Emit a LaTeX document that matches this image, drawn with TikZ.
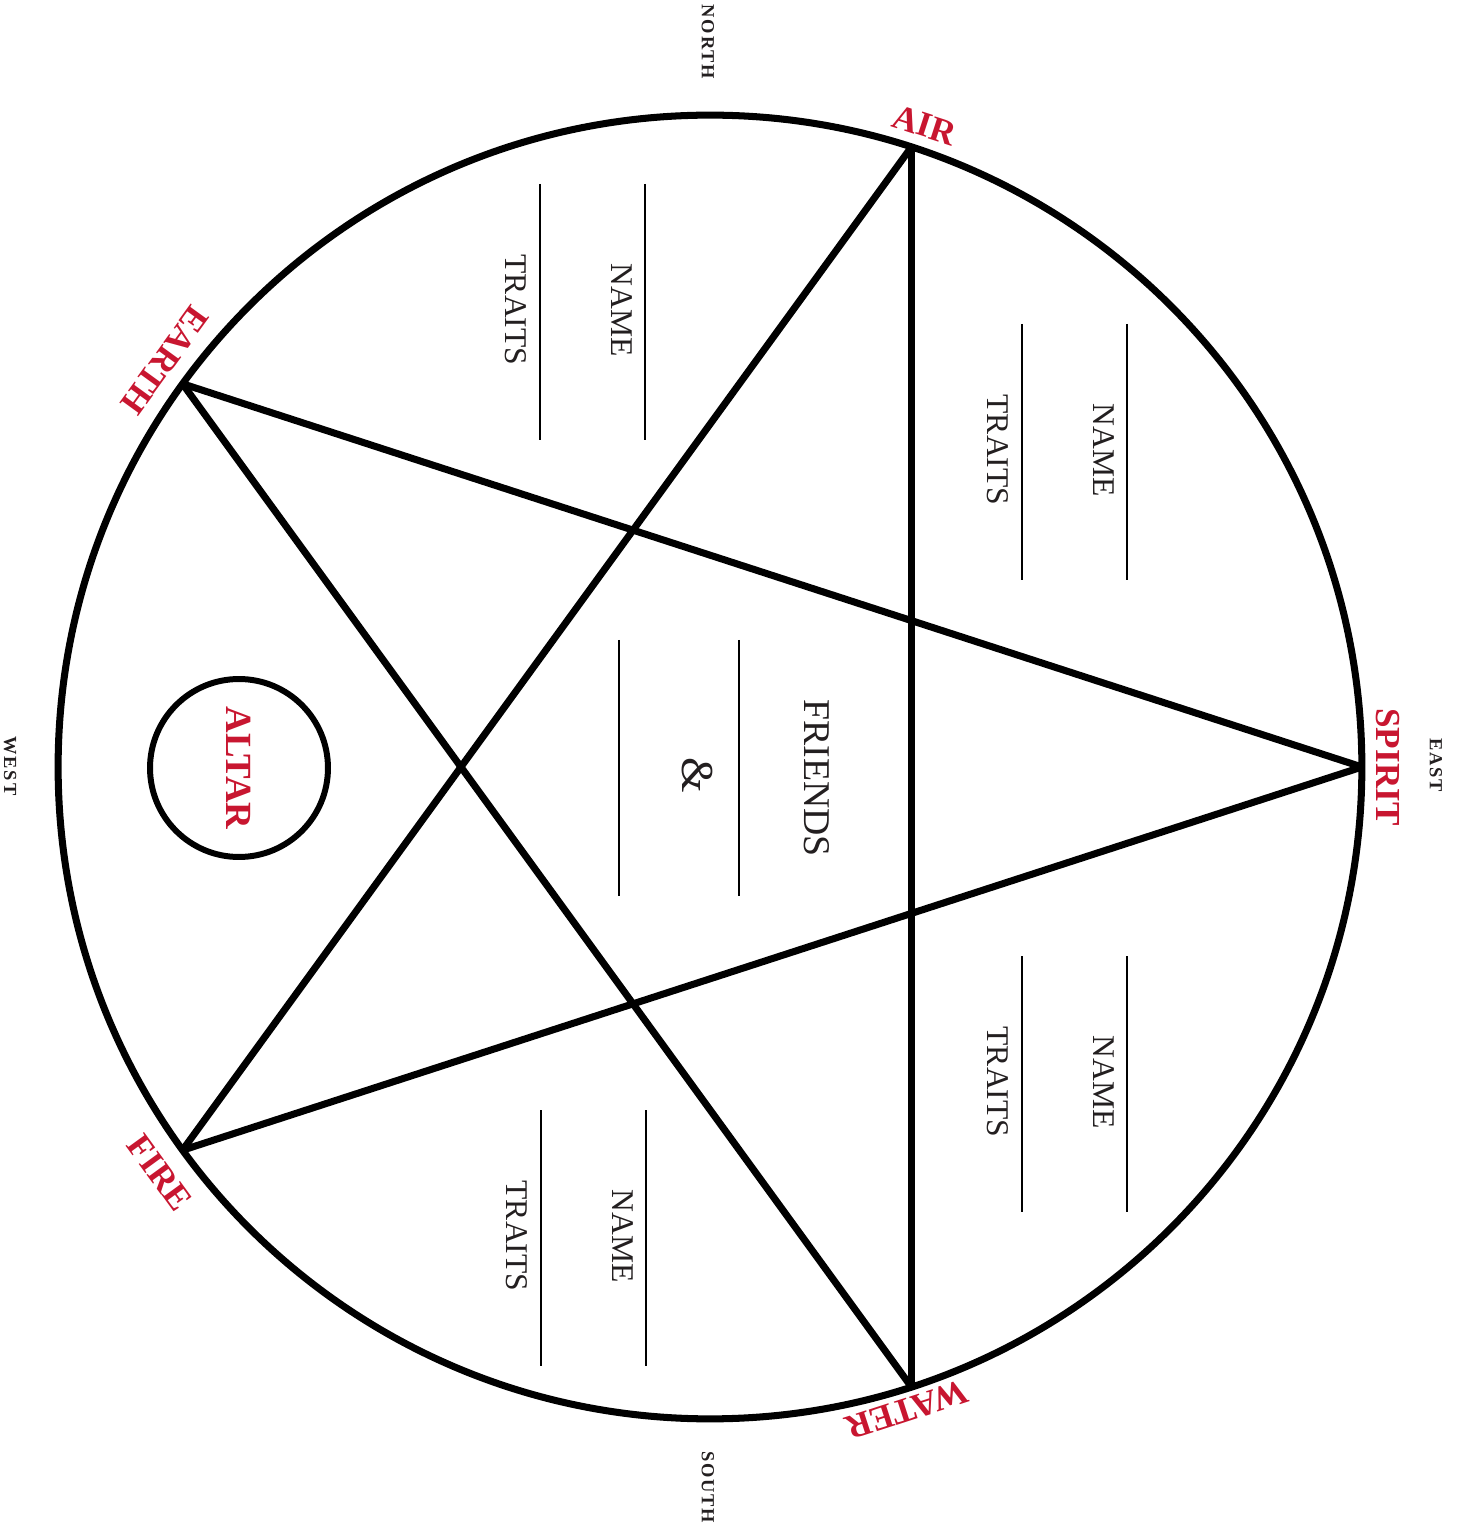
\documentclass[tikz,border=0pt]{standalone}
\usepackage{fontspec}
\setmainfont{Liberation Serif}
\newfontfamily\compassfont[LetterSpace=10]{Liberation Serif}
\usepackage{tikz}
\usetikzlibrary{positioning, calc}
\definecolor{elemred}{RGB}{200,22,48}
\definecolor{inkgray}{RGB}{35,31,32}

\begin{document}
\begin{tikzpicture}[
        x=0.02cm, y=0.02cm,
        ring/.style={circle, draw=black, line width=4pt, minimum size=26.08cm, inner sep=0pt, outer sep=0pt},
        altar/.style={circle, draw=black, line width=3.4pt, minimum size=3.56cm, inner sep=0pt, text=elemred, font=\fontsize{21}{24}\selectfont\bfseries},
        starline/.style={black, line width=4pt},
        blank/.style={black, line width=1.4pt},
        element/.style={text=elemred, inner sep=0pt, font=\fontsize{20}{24}\selectfont\bfseries},
        compass/.style={text=inkgray, inner sep=0pt, rotate=-90, font=\fontsize{10.5}{12}\compassfont\bfseries},
        field/.style={text=inkgray, inner sep=0pt, rotate=-90, font=\fontsize{18}{22}\selectfont}
    ]
        \useasboundingbox (-710,-760) rectangle (755,767);

        % ================= CIRCLE =================
        \node[ring] (ring) at (0,0) {};

        % Vertices
        \coordinate (spirit) at (0:652);
        \coordinate (air) at (72:652);
        \coordinate (earth) at (144:652);
        \coordinate (fire) at (216:652);
        \coordinate (water) at (288:652);

        % ================= PENTAGRAM =================
        \draw[starline] (spirit) -- (earth);
        \draw[starline] (earth) -- (water);
        \draw[starline] (water) -- (air);
        \draw[starline] (air) -- (fire);
        \draw[starline] (fire) -- (spirit);

        % ================= ELEMENTS =================
        \node[element, rotate=-90] (spirit-lbl) at (0:678) {SPIRIT};
        \node[element, rotate=-18] (air-lbl) at (71.5:677) {AIR};
        \node[element, rotate=234] (earth-lbl) at (143.3:680) {EARTH};
        \node[element, rotate=306] (fire-lbl) at (216.4:684) {FIRE};
        \node[element, rotate=198] (water-lbl) at (287:672) {WATER};

        % ================= COMPASS =================
        \node[compass] (north) at (-2,725) {NORTH};
        \node[compass] (east) at (726,2) {EAST};
        \node[compass] (south) at (-2,-720) {SOUTH};
        \node[compass] (west) at (-700,1) {WEST};

        % ================= ALTAR =================
        \node[altar, rotate=-90] (altar) at (-471,-1) {ALTAR};

        % ================= CENTRE =================
        \node[field, font=\fontsize{21.5}{24}\selectfont] (friends) at (107,-11) {FRIENDS};
        \node[field, font=\fontsize{26}{28}\selectfont] (amp) at (-13,-8) {\&};
        \draw[blank] (29,127) -- (29,-129);
        \draw[blank] (-91,127) -- (-91,-129);

        % ================= NAME / TRAITS =================
        \foreach \gx/\gy [count=\i] in {-65/455, 417/315, 417/-317, -64/-471} {
            \draw[blank] (\gx,\gy+128) -- (\gx,\gy-128);
            \node[field] (name-\i) at (\gx-23,\gy+2) {NAME};
            \draw[blank] (\gx-105,\gy+128) -- (\gx-105,\gy-128);
            \node[field] (traits-\i) at (\gx-129,\gy+2) {TRAITS};
        }

    \end{tikzpicture}
\end{document}
